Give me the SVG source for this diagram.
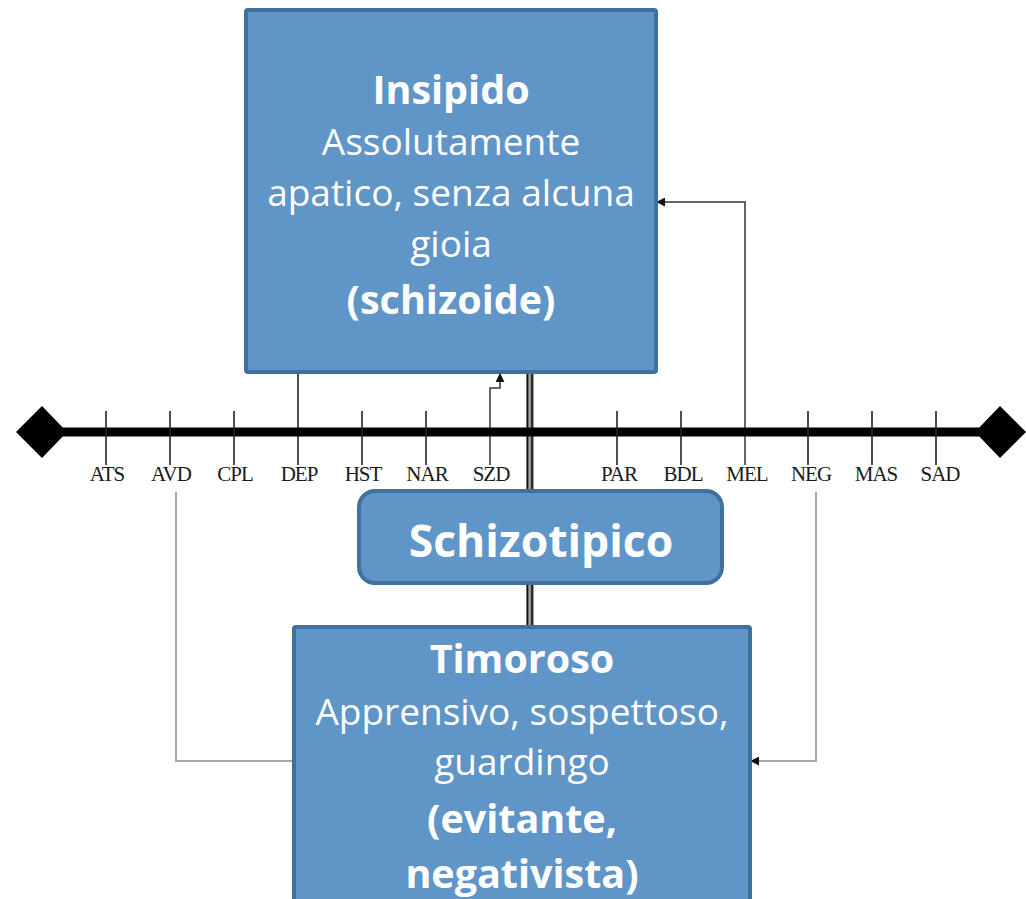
<svg xmlns="http://www.w3.org/2000/svg" width="1026" height="899" viewBox="0 0 1026 899">
<defs>
<marker id="ah" viewBox="0 0 10 10" refX="9" refY="5" markerWidth="9" markerHeight="9" markerUnits="userSpaceOnUse" orient="auto">
<path d="M0,0 L10,5 L0,10 Z" fill="#111"/>
</marker>
</defs>
<style>
.box{fill:#6095c8;stroke:#41709c;stroke-width:4}
.t{font-family:"Open Sans","Noto Sans",sans-serif;fill:#fff;text-anchor:middle;font-size:37px}
.b{font-weight:bold;font-size:39.5px}
.lab{font-family:"Liberation Serif",serif;font-size:21px;fill:#1a1a1a;text-anchor:middle;letter-spacing:-1px}
.tick{stroke:#222;stroke-width:1.6;fill:none}
.gray{stroke:#a8a8a8;stroke-width:2;fill:none}
.dark{stroke:#333;stroke-width:1.5;fill:none}
</style>
<rect width="1026" height="899" fill="#fff"/>
<g id="connectors">
<line x1="530" y1="372" x2="530" y2="628" stroke="#9a9a9a" stroke-width="8"/>
<line x1="527.5" y1="372" x2="527.5" y2="628" stroke="#111" stroke-width="1.6"/>
<line x1="532" y1="372" x2="532" y2="628" stroke="#111" stroke-width="1.6"/>
<path class="dark" d="M745,465 V202 H657" marker-end="url(#ah)"/>
<path class="dark" d="M490,465 V388 H500 V374" marker-end="url(#ah)"/>
<line class="tick" x1="298" y1="372" x2="298" y2="465"/>
<path class="gray" d="M176,492 V761 H294"/>
<path class="gray" d="M816,492 V761 H751" marker-end="url(#ah)"/>
</g>
<g id="axis">
<line x1="42" y1="432" x2="1000" y2="432" stroke="#000" stroke-width="9"/>
<polygon points="16,432 42,406 67,432 42,458" fill="#000"/>
<polygon points="975,432 1000,406 1026,432 1000,458" fill="#000"/>
<g class="tick">
<line x1="106" y1="411" x2="106" y2="465"/>
<line x1="170" y1="411" x2="170" y2="465"/>
<line x1="234" y1="411" x2="234" y2="465"/>
<line x1="362" y1="411" x2="362" y2="465"/>
<line x1="426" y1="411" x2="426" y2="465"/>
<line x1="617" y1="411" x2="617" y2="465"/>
<line x1="681" y1="411" x2="681" y2="465"/>
<line x1="808" y1="411" x2="808" y2="465"/>
<line x1="872" y1="411" x2="872" y2="465"/>
<line x1="936" y1="411" x2="936" y2="465"/>
</g>
<text class="lab" x="107" y="481">ATS</text>
<text class="lab" x="171" y="481">AVD</text>
<text class="lab" x="235" y="481">CPL</text>
<text class="lab" x="299" y="481">DEP</text>
<text class="lab" x="363" y="481">HST</text>
<text class="lab" x="427" y="481">NAR</text>
<text class="lab" x="491" y="481">SZD</text>
<text class="lab" x="619" y="481">PAR</text>
<text class="lab" x="683" y="481">BDL</text>
<text class="lab" x="747" y="481">MEL</text>
<text class="lab" x="811" y="481">NEG</text>
<text class="lab" x="876" y="481">MAS</text>
<text class="lab" x="940" y="481">SAD</text>
</g>
<g id="insipido">
<rect class="box" x="246" y="10" width="410" height="362" rx="2"/>
<text class="t b" x="451" y="104">Insipido</text>
<text class="t" x="451" y="155">Assolutamente</text>
<text class="t" x="451" y="206">apatico, senza alcuna</text>
<text class="t" x="451" y="257">gioia</text>
<text class="t b" x="451" y="314">(schizoide)</text>
</g>
<g id="schizotipico">
<rect class="box" x="359" y="491" width="363" height="92" rx="16"/>
<text class="t b" x="541" y="557" style="font-size:44.5px">Schizotipico</text>
</g>
<g id="timoroso">
<rect class="box" x="294" y="627" width="456" height="290" rx="2"/>
<text class="t b" x="522" y="673">Timoroso</text>
<text class="t" x="522" y="725">Apprensivo, sospettoso,</text>
<text class="t" x="522" y="775">guardingo</text>
<text class="t b" x="522" y="833">(evitante,</text>
<text class="t b" x="522" y="888">negativista)</text>
</g>
</svg>
